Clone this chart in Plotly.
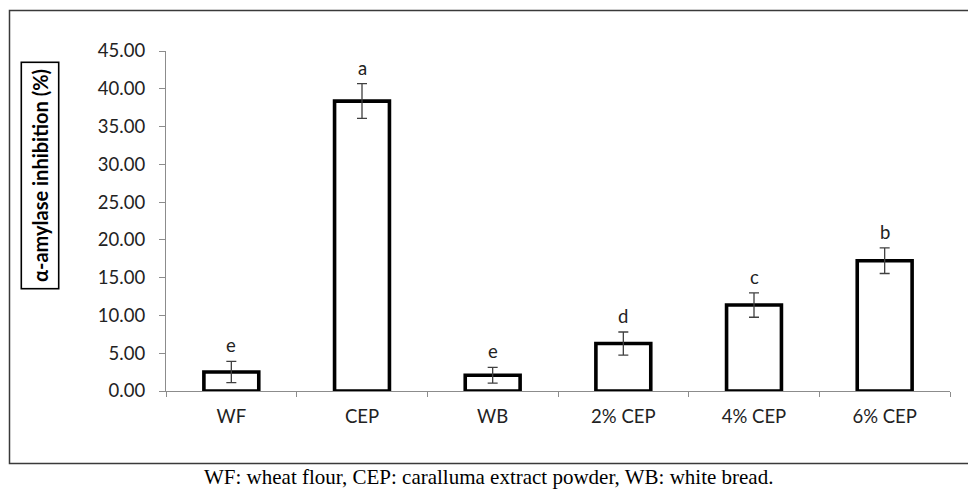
import plotly.graph_objects as go

# α-amylase inhibition per sample, with standard deviation and significance letters
categories = ["WF", "CEP", "WB", "2% CEP", "4% CEP", "6% CEP"]
inhibition = [2.52, 38.37, 2.09, 6.28, 11.38, 17.24]
std_dev = [1.40, 2.30, 1.04, 1.53, 1.62, 1.69]
letters = ["e", "a", "e", "d", "c", "b"]
y_ticks = [0, 5, 10, 15, 20, 25, 30, 35, 40, 45]

TICK_FONT = dict(family="Lato, Open Sans, sans-serif", size=18.5, color="#222222")
AXIS_GREY = "#8c8c8c"

fig = go.Figure()
fig.add_trace(go.Bar(
    x=categories,
    y=inhibition,
    width=0.42,
    marker=dict(color="white", line=dict(color="black", width=3.6)),
    error_y=dict(type="data", array=std_dev, visible=True,
                 color="#404040", thickness=1.3, width=5),
    showlegend=False,
    hoverinfo="x+y",
))

# significance letters above each error bar
for cat, val, sd, lab in zip(categories, inhibition, std_dev, letters):
    fig.add_annotation(
        x=cat, y=val + sd, text=lab, showarrow=False,
        yanchor="bottom", yshift=3,
        font=dict(family="Lato, Open Sans, sans-serif", size=18.5, color="#222222"),
    )

# boxed y-axis title
fig.add_annotation(
    xref="paper", yref="paper",
    x=(39.5 - 166) / 784, y=(391 - 176) / 340,
    text="<b>α-amylase inhibition (%)</b>", textangle=-90,
    showarrow=False, xanchor="center", yanchor="middle",
    font=dict(family="Lato, Open Sans, sans-serif", size=20, color="black"),
    bordercolor="black", borderwidth=1.6, borderpad=6, bgcolor="white",
)

# caption below the chart frame
fig.add_annotation(
    xref="paper", yref="paper",
    x=(488 - 166) / 784, y=(391 - 477) / 340,
    text="WF: wheat flour, CEP: caralluma extract powder, WB: white bread.",
    showarrow=False, xanchor="center", yanchor="middle",
    font=dict(family="Liberation Serif, DejaVu Serif, serif", size=21, color="black"),
)

# outer chart frame
fig.add_shape(
    type="rect", xref="paper", yref="paper",
    x0=(9.5 - 166) / 784, x1=(980 - 166) / 784,
    y0=(391 - 463.5) / 340, y1=(391 - 10.5) / 340,
    line=dict(color="#3a3a3a", width=1.5), fillcolor="rgba(0,0,0,0)",
    layer="below",
)

fig.update_layout(
    width=968, height=491,
    margin=dict(l=166, r=18, t=51, b=100),
    paper_bgcolor="white", plot_bgcolor="white",
    bargap=0.58,
)
fig.update_xaxes(
    showline=True, linecolor=AXIS_GREY, linewidth=1.3,
    ticks="outside", tickson="boundaries", ticklen=5, tickcolor=AXIS_GREY,
    tickfont=TICK_FONT, ticklabelstandoff=9, showgrid=False, zeroline=False,
)
fig.update_yaxes(
    range=[0, 45], tickvals=y_ticks, tickformat=".2f",
    showline=True, linecolor=AXIS_GREY, linewidth=1.3,
    ticks="outside", ticklen=6, tickcolor=AXIS_GREY,
    tickfont=TICK_FONT, ticklabelstandoff=10, showgrid=False, zeroline=False,
)

fig.write_html("out.html")
